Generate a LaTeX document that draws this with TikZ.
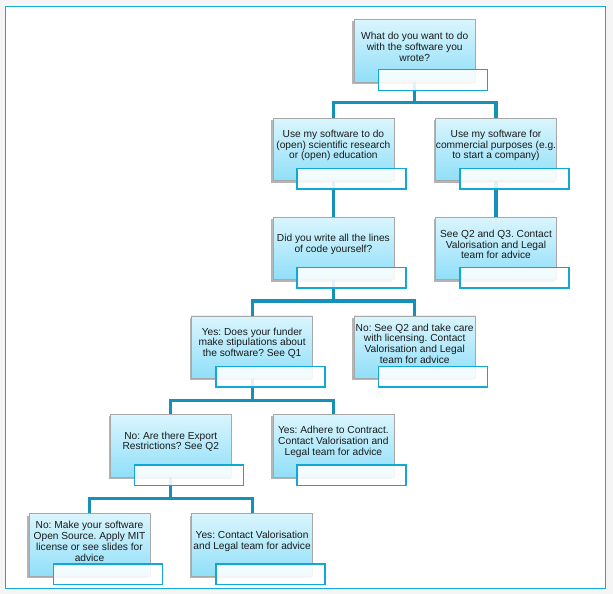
\documentclass[tikz,border=0pt]{standalone}
\usepackage{fontspec}
\setmainfont{Liberation Sans}
\usetikzlibrary{shadows,calc}
\definecolor{framecol}{HTML}{13ABD8}
\definecolor{conncol}{HTML}{1590B8}
\definecolor{labcol}{HTML}{12A8D4}
\definecolor{boxtop}{HTML}{DAF5FD}
\definecolor{boxbot}{HTML}{90DFF9}
\definecolor{boxline}{HTML}{A8A8A8}
\definecolor{bgcol}{HTML}{F5F5F5}
\definecolor{txtcol}{HTML}{1A1A1A}
\frenchspacing
\begin{document}
\begin{tikzpicture}[x=1pt,y=-1pt,
 qbox/.style={rectangle, minimum width=121pt, minimum height=62.5pt, inner sep=0pt,
   draw=boxline, line width=0.6pt, top color=boxtop, bottom color=boxbot,
   drop shadow={shadow xshift=-1.8pt, shadow yshift=-1.8pt, opacity=0.45, fill=black!65}},
 txt/.style={align=center, font=\fontsize{10.2}{10.8}\selectfont, text=txtcol, inner sep=0pt},
 tag/.style={rectangle, minimum width=109pt, minimum height=20.5pt, inner sep=0pt,
   draw=labcol, line width=1.5pt, fill=white, fill opacity=0.88},
 conn/.style={draw=conncol, line width=3.2pt}]
\useasboundingbox (0,0) rectangle (613,594);
\fill[bgcol] (0,0) rectangle (613,594);
\draw[framecol, line width=1.2pt, fill=white] (5.5,6.8) rectangle (605.5,588.2);

% boxes
\node[qbox] (q1) at (414.7,50.7) {};
\node[qbox] (q2) at (333.4,149.5) {};
\node[qbox] (q3) at (496,149.5) {};
\node[qbox] (q4) at (333.4,248.5) {};
\node[qbox] (q5) at (496,248.5) {};
\node[qbox] (q6) at (252.1,347.2) {};
\node[qbox] (q7) at (414.7,347.2) {};
\node[qbox] (q8) at (170.8,445.8) {};
\node[qbox] (q9) at (333.4,445.8) {};
\node[qbox] (q10) at (89.5,545) {};
\node[qbox] (q11) at (252.1,545) {};

% texts
\node[txt] (t1) at ([yshift=4pt]q1.center) {What do you want to do\\with the software you\\wrote?};
\node[txt] (t2) at ([yshift=4pt]q2.center) {Use my software to do\\(open) scientific research\\or (open) education};
\node[txt] (t3) at ([yshift=4pt]q3.center) {Use my software for\\commercial purposes (e.g.\\to start a company)};
\node[txt] (t4) at ([yshift=4pt]q4.center) {Did you write all the lines\\of code yourself?};
\node[txt] (t5) at ([yshift=4pt]q5.center) {See Q2 and Q3. Contact\\Valorisation and Legal\\team for advice};
\node[txt] (t6) at ([yshift=4pt]q6.center) {Yes: Does your funder\\make stipulations about\\the software? See Q1};
\node[txt] (t7) at ([yshift=3.5pt]q7.center) {No: See Q2 and take care\\with licensing. Contact\\Valorisation and Legal\\team for advice};
\node[txt] (t8) at ([yshift=4pt]q8.center) {No: Are there Export\\Restrictions? See Q2};
\node[txt] (t9) at ([yshift=4pt]q9.center) {Yes: Adhere to Contract.\\Contact Valorisation and\\Legal team for advice};
\node[txt] (t10) at ([yshift=3.5pt]q10.center) {No: Make your software\\Open Source. Apply MIT\\license or see slides for\\advice};
\node[txt] (t11) at ([yshift=4pt]q11.center) {Yes: Contact Valorisation\\and Legal team for advice};

% connectors
\draw[conn] (q1.south) -- ++(0,20.5) -| (q2.north);
\draw[conn] (q1.south) -- ++(0,20.5) -| (q3.north);
\draw[conn] (q2.south) -- (q4.north);
\draw[conn] (q3.south) -- (q5.north);
\draw[conn] (q4.south) -- ++(0,21) -| (q6.north);
\draw[conn] (q4.south) -- ++(0,21) -| (q7.north);
\draw[conn] (q6.south) -- ++(0,21.5) -| (q8.north);
\draw[conn] (q6.south) -- ++(0,21.5) -| (q9.north);
\draw[conn] (q8.south) -- ++(0,21) -| (q10.north);
\draw[conn] (q8.south) -- ++(0,21) -| (q11.north);

% tag boxes
\foreach \q in {q1,q2,q3,q4,q5,q6,q7,q8,q9,q10,q11}
  \node[tag] (\q l) at ([shift={(18.25,-2.25)}]\q.south) {};
\end{tikzpicture}
\end{document}
